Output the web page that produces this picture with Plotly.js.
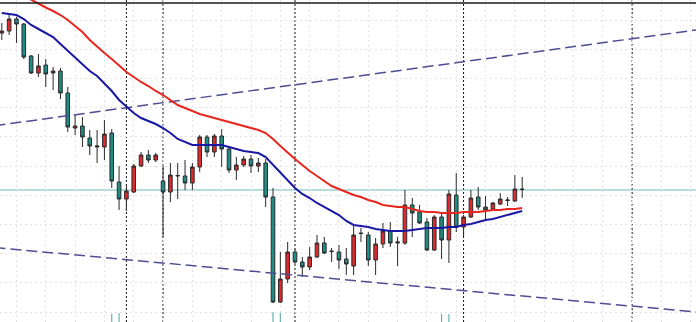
<!DOCTYPE html>
<html><head><meta charset="utf-8">
<script src="https://cdn.plot.ly/plotly-3.0.1.min.js"></script>
<style>html,body{margin:0;padding:0;background:#fff;}#chart{width:696px;height:322px;}</style>
</head><body><div id="chart"></div>
<script>
// OHLC prices (no axis labels visible)
const open = [1.1289,1.1291,1.1303,1.1298,1.1266,1.1249,1.1257,1.1249,1.1251,1.1229,
1.1194,1.1196,1.1184,1.1175,1.1175,1.1189,1.1140,1.1123,1.1130,1.1156,
1.1167,1.1162,1.1141,1.1130,1.1146,1.1146,1.1139,1.1155,1.1185,1.1170,
1.1186,1.1173,1.1152,1.1157,1.1163,1.1156,1.1159,1.1125,1.1020,1.1043,
1.1070,1.1060,1.1055,1.1065,1.1079,1.1071,1.1070,1.1063,1.1056,1.1089,
1.1087,1.1062,1.1078,1.1091,1.1079,1.1079,1.1117,1.1110,1.1100,1.1072,
1.1105,1.1082,1.1127,1.1095,1.1105,1.1125,1.1115,1.1113,1.1118,1.11215,
1.1121,1.1133];
const high = [1.1299,1.1307,1.1305,1.1299,1.1267,1.1268,1.1263,1.1255,1.1254,1.1235,
1.1207,1.1205,1.1192,1.1192,1.1202,1.1193,1.1156,1.1138,1.1158,1.1170,
1.1172,1.1169,1.1156,1.1159,1.1159,1.1162,1.1159,1.1187,1.1187,1.1188,
1.1193,1.1176,1.1165,1.1166,1.1167,1.1164,1.1163,1.1134,1.1070,1.1080,
1.1073,1.1065,1.1075,1.1087,1.1085,1.1074,1.1077,1.1074,1.1097,1.1094,
1.1090,1.1084,1.1099,1.1100,1.1085,1.1132,1.1124,1.1117,1.1104,1.1107,
1.1109,1.1132,1.1149,1.1107,1.1132,1.1135,1.1126,1.1120,1.1129,1.1125,
1.1147,1.1145];
const low = [1.1282,1.1287,1.1279,1.1263,1.1248,1.1245,1.1235,1.1232,1.1223,1.1190,
1.1187,1.1175,1.1167,1.1159,1.1162,1.1134,1.1112,1.1111,1.1129,1.1155,
1.1159,1.1160,1.1085,1.1120,1.1123,1.1132,1.1132,1.1150,1.1165,1.1165,
1.1155,1.1149,1.1142,1.1155,1.1149,1.1150,1.1115,1.1019,1.1019,1.1039,
1.1058,1.1045,1.1052,1.1064,1.1068,1.1060,1.1053,1.1047,1.1047,1.1080,
1.1056,1.1047,1.1074,1.1075,1.1056,1.1077,1.1085,1.1098,1.1071,1.1071,
1.1063,1.1059,1.1090,1.1086,1.1104,1.1112,1.1102,1.1112,1.1117,1.1116,
1.1120,1.1124];
const close = [1.1291,1.1303,1.1298,1.1265,1.1249,1.1256,1.1248,1.1251,1.1229,1.1195,
1.1196,1.1185,1.1176,1.1176,1.1188,1.1141,1.1123,1.1131,1.1156,1.1167,
1.1162,1.1167,1.1130,1.1147,1.11465,1.1139,1.1155,1.1185,1.1170,1.1186,
1.1173,1.1152,1.1157,1.1163,1.1156,1.1159,1.1125,1.1020,1.1043,1.1070,
1.1060,1.1055,1.1065,1.1079,1.1069,1.10705,1.1062,1.1058,1.1087,1.10885,
1.1062,1.1078,1.1091,1.1079,1.1080,1.1117,1.1109,1.1099,1.1072,1.1105,
1.1082,1.1128,1.1095,1.1105,1.1124,1.1115,1.1112,1.1119,1.1123,1.1122,
1.1133,1.11325];
// moving averages
const maSlow = [1.1338,1.1334,1.1330,1.1326,1.1322,1.13185,1.13145,1.1311,1.1307,1.1302,
1.1296,1.1290,1.1282,1.1275,1.1269,1.1263,1.1256,1.1250,1.1245,1.1240,
1.1236,1.1231,1.1227,1.1222,1.1217,1.1214,1.1211,1.1208,1.1206,1.1204,
1.1202,1.1200,1.1198,1.1196,1.1194,1.1192,1.1189,1.1183,1.1176,1.1169,
1.1163,1.1157,1.1151,1.1146,1.1141,1.1136,1.1133,1.1130,1.1127,1.1125,
1.1122,1.1120,1.1117,1.1116,1.1115,1.1115,1.1113,1.1111,1.1110,1.1110,
1.1109,1.1109,1.1109,1.1110,1.1110,1.1110,1.1111,1.1112,1.1112,1.1113,
1.1113,1.1114];
const maFast = [1.1309,1.1308,1.1307,1.1303,1.1297,1.1293,1.1289,1.1285,1.1278,1.1271,
1.1264,1.1257,1.1251,1.1246,1.1239,1.1231,1.1222,1.1215,1.1209,1.1204,
1.1201,1.1198,1.1194,1.1189,1.1183,1.1180,1.1177,1.1177,1.1177,1.1177,
1.1177,1.1175,1.1173,1.1171,1.1170,1.1169,1.1165,1.1157,1.1149,1.1141,
1.1134,1.1128,1.1124,1.1119,1.1115,1.1111,1.1107,1.1101,1.1097,1.1096,
1.1095,1.1093,1.1092,1.1091,1.1091,1.1091,1.1092,1.1093,1.1094,1.1094,
1.1094,1.1095,1.1095,1.1097,1.1098,1.1100,1.1102,1.1103,1.1105,1.1107,
1.1109,1.1111];
// channel lines (two anchor points each)
const trendX = [-1, 95];
const upperTrend = [1.119625, 1.12923];
const lowerTrend = [1.10745, 1.10098];
const levelPrice = 1.1132;
const separators = [17, 22, 40, 63, 86];
// volume tops peeking at the bottom
const volBar = [15, 16, 37, 38, 60, 61];
const volTop = [1.1008, 1.1009, 1.1010, 1.1009, 1.1008, 1.1008];
const volBase = 1.1000;

const bar = open.map((_, i) => i);

const traces = [
  {type:'scatter', mode:'lines', x:trendX, y:upperTrend, line:{color:'#4d4d92', width:1.5, dash:'11px,5px'}, hoverinfo:'skip'},
  {type:'scatter', mode:'lines', x:trendX, y:lowerTrend, line:{color:'#4d4d92', width:1.5, dash:'11px,5px'}, hoverinfo:'skip'},
  {type:'bar', x:volBar, y:volTop.map(v => v - volBase), base:volBase, width:0.16,
   marker:{color:'#5fb3aa', line:{width:0}}, hoverinfo:'skip'},
  {type:'candlestick', x:bar, open:open, high:high, low:low, close:close,
   whiskerwidth:0,
   increasing:{line:{color:'#2a2a2a', width:1}, fillcolor:'#dc2a2e'},
   decreasing:{line:{color:'#2a2a2a', width:1}, fillcolor:'#1f8d85'},
   hoverinfo:'skip'},
  {type:'scatter', mode:'lines', x:bar, y:maSlow, line:{color:'#e8261e', width:2}, hoverinfo:'skip'},
  {type:'scatter', mode:'lines', x:bar, y:maFast, line:{color:'#1818a4', width:2}, hoverinfo:'skip'}
];

const shapes = separators.map(s => ({type:'line', xref:'x', yref:'paper', x0:s, x1:s, y0:0, y1:1,
  line:{color:'#111', width:1, dash:'2px,2px'}, layer:'below'}));
shapes.push({type:'line', xref:'paper', yref:'y', x0:0, x1:1, y0:levelPrice, y1:levelPrice,
  line:{color:'#6fb9b9', width:1}, layer:'below'});
shapes.push({type:'line', xref:'paper', yref:'paper', x0:0, x1:1, y0:1-3/322, y1:1-3/322,
  line:{color:'#1a1a1a', width:1.5}});

const layout = {
  width:696, height:322,
  margin:{l:0, r:0, t:0, b:0, pad:0},
  paper_bgcolor:'#ffffff', plot_bgcolor:'#ffffff',
  showlegend:false,
  xaxis:{type:'linear', range:[-0.2456, 94.71], showticklabels:false, ticks:'',
    showgrid:true, tick0:2, dtick:4, gridcolor:'#e3e3e3', griddash:'2px,3px', gridwidth:1,
    zeroline:false, showline:false, rangeslider:{visible:false}, fixedrange:true},
  yaxis:{range:[1.1000, 1.1322], showticklabels:false, ticks:'',
    showgrid:true, tick0:1.1010, dtick:0.00292, gridcolor:'#e3e3e3', griddash:'2px,3px', gridwidth:1,
    zeroline:false, showline:false, fixedrange:true},
  boxgap:0.3,
  shapes:shapes
};

Plotly.newPlot('chart', traces, layout, {displayModeBar:false, staticPlot:true});
</script>
</body></html>
